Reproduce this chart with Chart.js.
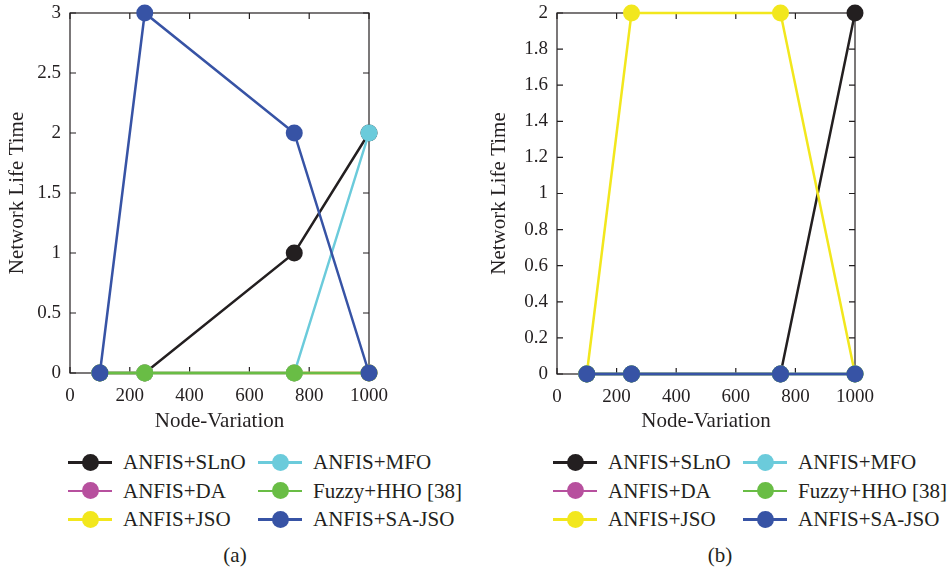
<!DOCTYPE html>
<html>
<head>
<meta charset="utf-8">
<script src="https://cdn.jsdelivr.net/npm/chart.js@4.4.1/dist/chart.umd.min.js"></script>
<style>
  body { margin: 0; background: #fff; }
  #wrap { position: relative; width: 949px; height: 573px; font-family: "Liberation Serif", serif; color: #231f20; }
  canvas { position: absolute; top: 0; }
  .item { position: absolute; height: 28px; white-space: nowrap; font-size: 21px; line-height: 28px; }
  .swatch { position: absolute; left: 0; top: 13px; width: 44px; height: 2.5px; }
  .dot { position: absolute; left: 13.5px; top: 5.5px; width: 17px; height: 17px; border-radius: 50%; }
  .label { position: absolute; left: 55px; top: 0; }
  .caption { position: absolute; top: 541px; font-size: 21px; line-height: 28px; transform: translateX(-50%); }
</style>
</head>
<body>
<div id="wrap">
  <canvas id="chartA" width="475" height="440" style="left:0"></canvas>
  <canvas id="chartB" width="469" height="440" style="left:480px"></canvas>
  <div class="caption" style="left:235px">(a)</div>
  <div class="caption" style="left:720px">(b)</div>
</div>
<script>
const nodeVariation = [100, 250, 750, 1000]
const seriesNames = ['ANFIS+SLnO', 'ANFIS+DA', 'ANFIS+JSO', 'ANFIS+MFO', 'Fuzzy+HHO [38]', 'ANFIS+SA-JSO']
const seriesColors = ['#231f20', '#b7509e', '#f2e71d', '#6bcbdb', '#69bd45', '#3753a5']

// panel (a)
const slnoA = [0, 0, 1, 2]
const daA = [0, 0, 0, 0]
const jsoA = [0, 0, 0, 0]
const mfoA = [0, 0, 0, 2]
const hhoA = [0, 0, 0, 0]
const saJsoA = [0, 3, 2, 0]

// panel (b)
const slnoB = [0, 0, 0, 2]
const daB = [0, 0, 0, 0]
const jsoB = [0, 2, 2, 0]
const mfoB = [0, 0, 0, 0]
const hhoB = [0, 0, 0, 0]
const saJsoB = [0, 0, 0, 0]

const axisColor = '#231f20'
const fontFamily = '"Liberation Serif", "Times New Roman", serif'

// MATLAB style box with inward ticks on all four sides
const framePlugin = {
    id: 'frame',
    beforeDatasetsDraw: (chart) => {
        const { ctx, chartArea: a, scales: { x, y } } = chart
        const len = 6
        ctx.save()
        ctx.strokeStyle = axisColor
        ctx.lineWidth = 1.2
        ctx.strokeRect(a.left, a.top, a.right - a.left, a.bottom - a.top)
        ctx.beginPath()
        x.ticks.forEach((t) => {
            const px = x.getPixelForValue(t.value)
            ctx.moveTo(px, a.bottom)
            ctx.lineTo(px, a.bottom - len)
            ctx.moveTo(px, a.top)
            ctx.lineTo(px, a.top + len)
        })
        y.ticks.forEach((t) => {
            const py = y.getPixelForValue(t.value)
            ctx.moveTo(a.left, py)
            ctx.lineTo(a.left + len, py)
            ctx.moveTo(a.right, py)
            ctx.lineTo(a.right - len, py)
        })
        ctx.stroke()
        ctx.restore()
    }
}

const makeDatasets = (values) => values.map((vals, i) => ({
    label: seriesNames[i],
    data: vals.map((v, k) => ({ x: nodeVariation[k], y: v })),
    borderColor: seriesColors[i],
    backgroundColor: seriesColors[i],
    pointBackgroundColor: seriesColors[i],
    pointBorderWidth: 0,
    pointRadius: 8.5,
    borderWidth: 2.5,
    tension: 0,
    clip: false,
    order: values.length - i
}))

const createPanel = (id, values, yMax, yStep, padLeft, yWidth, padRight, xHeight) => {
    const ctx = document.getElementById(id).getContext('2d')
    return new Chart(ctx, {
        type: 'line',
        data: { datasets: makeDatasets(values) },
        options: {
            responsive: false,
            animation: false,
            events: [],
            layout: { padding: { left: padLeft, right: padRight, top: 13, bottom: 6 } },
            plugins: { legend: { display: false }, tooltip: { enabled: false } },
            scales: {
                x: {
                    type: 'linear',
                    min: 0,
                    max: 1000,
                    grid: { display: false, drawTicks: false },
                    border: { display: false },
                    ticks: {
                        stepSize: 200,
                        padding: 12,
                        maxRotation: 0,
                        color: axisColor,
                        font: { family: fontFamily, size: 19 },
                        callback: (v) => String(v)
                    },
                    title: {
                        display: true,
                        text: 'Node-Variation',
                        color: axisColor,
                        padding: 0,
                        font: { family: fontFamily, size: 21 }
                    },
                    afterFit: (scale) => { scale.height = xHeight }
                },
                y: {
                    min: 0,
                    max: yMax,
                    // hidden tick marks only offset the labels; tick padding would push the top down
                    grid: { display: false, drawTicks: true, tickLength: 9 },
                    border: { display: false },
                    ticks: {
                        stepSize: yStep,
                        padding: 0,
                        color: axisColor,
                        font: { family: fontFamily, size: 19 },
                        callback: (v) => String(+v.toFixed(1))
                    },
                    title: {
                        display: true,
                        text: 'Network Life Time',
                        color: axisColor,
                        padding: 0,
                        font: { family: fontFamily, size: 21 }
                    },
                    afterFit: (scale) => { scale.width = yWidth }
                }
            }
        },
        plugins: [framePlugin]
    })
}

createPanel('chartA', [slnoA, daA, jsoA, mfoA, hhoA, saJsoA], 3, 0.5, 5, 65, 106, 61)
createPanel('chartB', [slnoB, daB, jsoB, mfoB, hhoB, saJsoB], 2, 0.2, 7, 70, 94, 60)

// two-column legends under each panel
const legendLeft = [68, 553]
const rowCenters = [462, 490.5, 519]
const wrap = document.getElementById('wrap')
legendLeft.forEach((left) => {
    seriesNames.forEach((name, i) => {
        const col = Math.floor(i / 3)
        const row = i % 3
        const item = document.createElement('div')
        item.className = 'item'
        item.style.left = (left + col * 190) + 'px'
        item.style.top = (rowCenters[row] - 14) + 'px'
        item.innerHTML = `<div class="swatch" style="background:${seriesColors[i]}"></div>` +
            `<div class="dot" style="background:${seriesColors[i]}"></div>` +
            `<span class="label">${name}</span>`
        wrap.appendChild(item)
    })
})
</script>
</body>
</html>
